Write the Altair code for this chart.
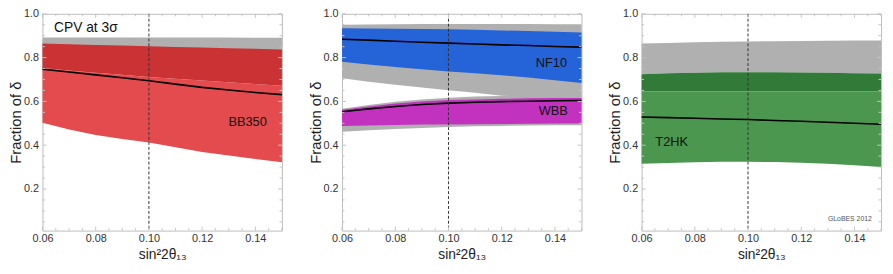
import altair as alt
import pandas as pd

# ---------------- data ----------------
xs = [0.06, 0.07, 0.08, 0.09, 0.10, 0.11, 0.12, 0.13, 0.14, 0.15]

# Panel 1: BB350
bb_gray_top = [0.892, 0.892, 0.892, 0.892, 0.892, 0.892, 0.892, 0.892, 0.891, 0.891]
bb_dark_top = [0.864, 0.861, 0.858, 0.855, 0.852, 0.849, 0.846, 0.843, 0.840, 0.837]
bb_dark_bot = [0.752, 0.741, 0.731, 0.722, 0.712, 0.704, 0.696, 0.688, 0.679, 0.671]
bb_line = [0.747, 0.734, 0.721, 0.708, 0.694, 0.679, 0.664, 0.652, 0.641, 0.631]
bb_light_bot = [0.502, 0.472, 0.446, 0.428, 0.412, 0.391, 0.369, 0.353, 0.337, 0.322]

# Panel 2: NF10
nf_gray_top = [0.950, 0.951, 0.952, 0.953, 0.953, 0.953, 0.953, 0.953, 0.952, 0.952]
nf_blue_top = [0.934, 0.933, 0.932, 0.931, 0.929, 0.927, 0.924, 0.921, 0.918, 0.915]
nf_line = [0.884, 0.880, 0.875, 0.870, 0.866, 0.862, 0.858, 0.855, 0.851, 0.848]
nf_blue_bot = [0.781, 0.768, 0.757, 0.747, 0.737, 0.728, 0.719, 0.709, 0.697, 0.684]
nf_gray_bot = [0.706, 0.690, 0.676, 0.663, 0.651, 0.640, 0.626, 0.620, 0.620, 0.620]
# Panel 2: WBB
wbb_gray_top = [0.567, 0.584, 0.598, 0.609, 0.617, 0.622, 0.625, 0.627, 0.628, 0.629]
wbb_mag_top = [0.562, 0.577, 0.590, 0.600, 0.606, 0.609, 0.612, 0.614, 0.615, 0.616]
wbb_line = [0.553, 0.566, 0.577, 0.586, 0.592, 0.596, 0.599, 0.601, 0.603, 0.604]
wbb_mag_bot = [0.488, 0.490, 0.492, 0.494, 0.495, 0.496, 0.497, 0.498, 0.499, 0.499]
wbb_gray_bot = [0.461, 0.468, 0.474, 0.479, 0.483, 0.486, 0.488, 0.490, 0.491, 0.491]

# Panel 3: T2HK
t2_gray_top = [0.864, 0.867, 0.870, 0.872, 0.874, 0.875, 0.876, 0.877, 0.878, 0.878]
t2_dark_top = [0.724, 0.728, 0.731, 0.733, 0.733, 0.733, 0.732, 0.731, 0.729, 0.727]
t2_dark_bot = [0.646, 0.646, 0.646, 0.646, 0.646, 0.646, 0.646, 0.646, 0.646, 0.646]
t2_line = [0.529, 0.526, 0.523, 0.520, 0.517, 0.513, 0.509, 0.505, 0.500, 0.496]
t2_light_bot = [0.315, 0.319, 0.322, 0.324, 0.324, 0.323, 0.320, 0.315, 0.308, 0.300]

# ticks / labels
x_major = [0.06, 0.08, 0.10, 0.12, 0.14]
x_minor = [0.065, 0.07, 0.075, 0.085, 0.09, 0.095, 0.105, 0.11, 0.115,
           0.125, 0.13, 0.135, 0.145, 0.15]
y_major = [0.2, 0.4, 0.6, 0.8, 1.0]
y_minor = [0.05, 0.1, 0.15, 0.25, 0.3, 0.35, 0.45, 0.5, 0.55, 0.65, 0.7,
           0.75, 0.85, 0.9, 0.95]
theta_ref = 0.10

# ---------------- styling ----------------
W, H = 243, 220
FONT = "Liberation Sans"
GRAY = "#b0b0b0"
TICK = "#c4c4c4"

xscale = alt.Scale(domain=[0.06, 0.15], nice=False, zero=False)
yscale = alt.Scale(domain=[0.01, 1.0], nice=False, zero=False)
xaxis = alt.Axis(values=x_major, format=".2f", title="sin²2θ₁₃", labelPadding=2,
                 titlePadding=4, labelFlush=False, titleFontSize=14)
yaxis = alt.Axis(values=y_major, format=".1f", title="Fraction of δ", labelPadding=4,
                 titlePadding=0, titleFontSize=15)

X = alt.X("x:Q", scale=xscale, axis=xaxis)


def band(lo, hi, color):
    df = pd.DataFrame({"x": xs, "lo": lo, "hi": hi})
    return alt.Chart(df).mark_area(color=color, opacity=1).encode(
        x=X, y=alt.Y("hi:Q", scale=yscale, axis=yaxis), y2="lo:Q")


def curve(vals):
    df = pd.DataFrame({"x": xs, "v": vals})
    return alt.Chart(df).mark_line(color="black", strokeWidth=1.6).encode(
        x=X, y=alt.Y("v:Q", scale=yscale, axis=yaxis))


def label(txt, xv, yv, size=13, color="#111"):
    return alt.Chart(pd.DataFrame({"t": [txt]})).mark_text(
        font=FONT, fontSize=size, align="center", baseline="middle", color=color
    ).encode(x=alt.datum(xv, scale=xscale), y=alt.datum(yv, scale=yscale), text="t:N")


def ticks():
    layers = []
    for vals, ln in ((x_major, 4), (x_minor, 2.5)):
        d = pd.DataFrame({"x": vals})
        base = alt.Chart(d).mark_rule(color=TICK, strokeWidth=1)
        layers.append(base.encode(x=alt.X("x:Q", scale=xscale, axis=xaxis),
                                  y=alt.value(H), y2=alt.value(H - ln)))
        layers.append(base.encode(x=alt.X("x:Q", scale=xscale, axis=xaxis),
                                  y=alt.value(0), y2=alt.value(ln)))
    for vals, ln in ((y_major, 4), (y_minor, 2.5)):
        d = pd.DataFrame({"y": vals})
        base = alt.Chart(d).mark_rule(color=TICK, strokeWidth=1)
        layers.append(base.encode(y=alt.Y("y:Q", scale=yscale, axis=yaxis),
                                  x=alt.value(0), x2=alt.value(ln)))
        layers.append(base.encode(y=alt.Y("y:Q", scale=yscale, axis=yaxis),
                                  x=alt.value(W), x2=alt.value(W - ln)))
    return layers


def vline():
    return alt.Chart(pd.DataFrame({"x": [theta_ref]})).mark_rule(
        color="#333333", strokeDash=[3, 2], strokeWidth=1
    ).encode(x=alt.X("x:Q", scale=xscale, axis=xaxis))


p1 = alt.layer(
    band(bb_dark_bot, bb_gray_top, GRAY),
    band(bb_dark_bot, bb_dark_top, "#cb3234"),
    band(bb_light_bot, bb_dark_bot, "#e34b4e"),
    curve(bb_line),
    vline(),
    label("CPV at 3σ", 0.0763, 0.937, size=14),
    label("BB350", 0.1371, 0.504),
    *ticks(),
).properties(width=W, height=H)

p2 = alt.layer(
    band(nf_gray_bot, nf_gray_top, GRAY),
    band(nf_blue_bot, nf_blue_top, "#2563d8"),
    curve(nf_line),
    band(wbb_gray_bot, wbb_gray_top, GRAY),
    band(wbb_mag_bot, wbb_mag_top, "#c232bf"),
    curve(wbb_line),
    vline(),
    label("NF10", 0.1387, 0.776),
    label("WBB", 0.1394, 0.556),
    *ticks(),
).properties(width=W, height=H)

p3 = alt.layer(
    band(t2_dark_top, t2_gray_top, GRAY),
    band(t2_dark_bot, t2_dark_top, "#327a37"),
    band(t2_light_bot, t2_dark_bot, "#4b974f"),
    curve(t2_line),
    vline(),
    label("T2HK", 0.0713, 0.416),
    label("GLoBES 2012", 0.1383, 0.061, size=7, color="#555555"),
    *ticks(),
).properties(width=W, height=H)

chart = alt.hconcat(p1, p2, p3, spacing=22).properties(
    padding={"left": 0, "top": -3, "right": 0, "bottom": 0}
).configure_view(stroke="#bdbdbd", strokeWidth=1).configure_axis(
    labelFont=FONT, labelFontSize=11, labelColor="#333333",
    titleFont=FONT, titleFontWeight="normal", titleColor="#222222",
    ticks=False, domain=False, grid=False,
)

chart.save("out.html", embed_options={"renderer": "svg", "actions": False})
